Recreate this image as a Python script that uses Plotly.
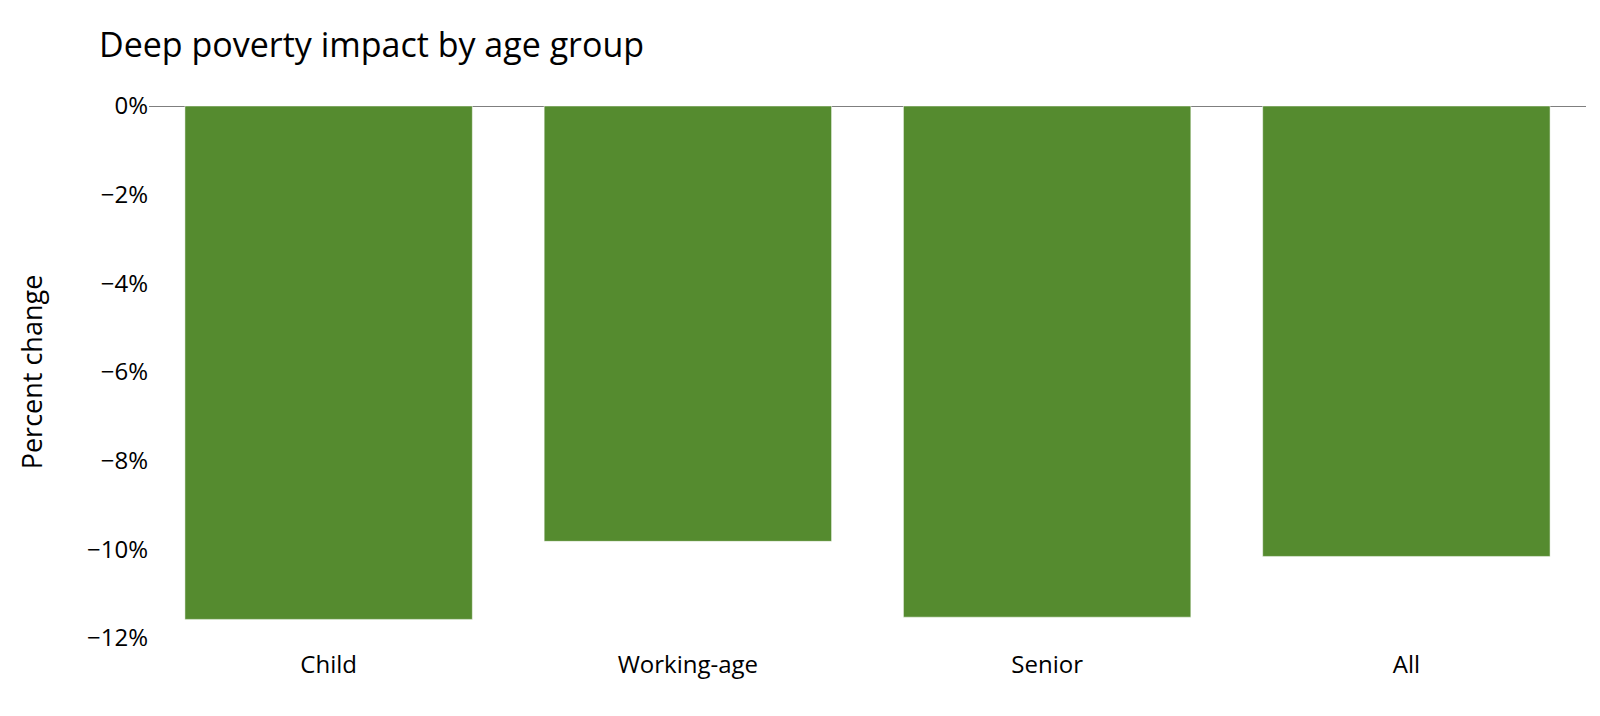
import plotly.graph_objects as go

age_groups = ["Child", "Working-age", "Senior", "All"]
pct_change = [-0.1158, -0.0982, -0.1153, -0.1016]

FONT = "Open Sans"

fig = go.Figure(
    go.Bar(
        x=age_groups,
        y=pct_change,
        marker_color="#558B2F",
        marker_line=dict(color="white", width=0.5),
    )
)

fig.update_layout(
    template="plotly_white",
    width=1600,
    height=716,
    font=dict(family=FONT, size=24, color="black"),
    title=dict(text="Deep poverty impact by age group", x=91 / 1600, xref="container",
               xanchor="left", font=dict(size=34), y=1 - 37 / 716, yanchor="middle"),
    margin=dict(l=141, r=22, t=98, b=86),
    bargap=0.2,
    showlegend=False,
)
fig.update_yaxes(title=dict(text="Percent change", font=dict(size=27), standoff=36),
                 tickformat=".0%", range=[-0.12, 0], dtick=0.02, showgrid=False,
                 zeroline=True, zerolinecolor="#7f7f7f", zerolinewidth=1,
                 ticks="")
fig.update_xaxes(showgrid=False, ticks="", ticklabelstandoff=10)

fig.write_html("out.html")
